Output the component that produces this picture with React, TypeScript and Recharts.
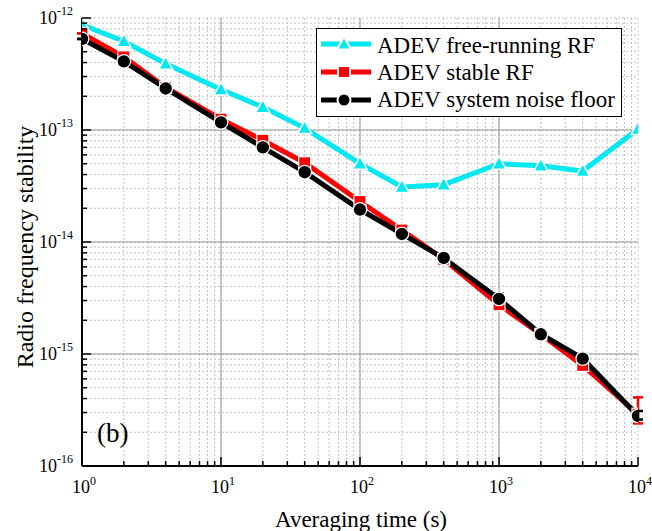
import React from "react";
import {
  LineChart,
  Line,
  XAxis,
  YAxis,
  CartesianGrid,
  ReferenceLine,
  ErrorBar,
  Legend,
  Label,
} from "recharts";

// ---- data ----
const tau = [1, 2, 4, 10, 20, 40, 100, 200, 400, 1000, 2000, 4000, 10000];
const freeRunningRF = [
  8.7e-13, 6.2e-13, 3.9e-13, 2.3e-13, 1.6e-13, 1.04e-13, 5.0e-14, 3.1e-14,
  3.25e-14, 5.0e-14, 4.8e-14, 4.3e-14, 1.02e-13,
];
const stableRF = [
  7.3e-13, 4.5e-13, 2.4e-13, 1.25e-13, 8.1e-14, 5.1e-14, 2.3e-14, 1.28e-14,
  7.0e-15, 2.75e-15, 1.5e-15, 7.9e-16, 2.9e-16,
];
const noiseFloor = [
  6.5e-13, 4.1e-13, 2.35e-13, 1.17e-13, 7.0e-14, 4.2e-14, 1.95e-14, 1.18e-14,
  7.2e-15, 3.1e-15, 1.5e-15, 9.1e-16, 2.8e-16,
];
const stableRFErr = [
  [0, 0], [0, 0], [0, 0], [0, 0], [0, 0], [0, 0], [0, 0], [0, 0], [0, 0],
  [1.0e-16, 1.0e-16], [0.5e-16, 0.5e-16], [0.6e-16, 0.7e-16], [0.5e-16, 1.2e-16],
];
const noiseFloorErr = [
  [0, 0], [0, 0], [0, 0], [0, 0], [0, 0], [0, 0], [0, 0], [0, 0], [0, 0],
  [2.5e-16, 3.5e-16], [0.5e-16, 0.5e-16], [0.6e-16, 0.9e-16], [0.2e-16, 0.3e-16],
];

const seriesNames = [
  "ADEV free-running RF",
  "ADEV stable RF",
  "ADEV system noise floor",
];
const xTitle = "Averaging time (s)";
const yTitle = "Radio frequency stability";
const panelLabel = "(b)";

const xDecades = [1, 10, 100, 1000, 10000];
const yDecades = [1e-16, 1e-15, 1e-14, 1e-13, 1e-12];
const minorMultipliers = [2, 3, 4, 5, 6, 7, 8, 9];

const withMinors = (decs: number[]) => {
  const out: number[] = [];
  decs.forEach((d, i) => {
    out.push(d);
    if (i < decs.length - 1) minorMultipliers.forEach((m) => out.push(m * d));
  });
  return out;
};
const xTicks = withMinors(xDecades);
const yTicks = withMinors(yDecades);
const isMajor = (v: number, decs: number[]) =>
  decs.some((d) => Math.abs(v - d) / d < 1e-6);

const data = tau.map((t, i) => ({
  tau: t,
  free: freeRunningRF[i],
  stable: stableRF[i],
  floor: noiseFloor[i],
  stableErr: stableRFErr[i],
  floorErr: noiseFloorErr[i],
}));

const FONT = "Liberation Serif, DejaVu Serif, serif";
const CYAN = "#00E8F0";
const RED = "#FF0000";
const BLACK = "#000000";
const tStyle = { fontFamily: FONT };

// ---- ticks ----
const BottomTick = (props: any) => {
  const { x, y, payload } = props;
  const v = payload.value;
  const major = isMajor(v, xDecades);
  const e = Math.round(Math.log10(v));
  return (
    <g>
      <line x1={x} x2={x} y1={y} y2={y - (major ? 9 : 5)} stroke="#000" strokeWidth={1.5} />
      {major && (
        <text x={x + 2} y={y + 27} textAnchor="middle" style={tStyle} fontSize={18} fill="#000">
          10
          <tspan dy={-8} fontSize={12}>{e}</tspan>
        </text>
      )}
    </g>
  );
};
const TopTick = (props: any) => {
  const { x, y, payload } = props;
  const major = isMajor(payload.value, xDecades);
  return <line x1={x} x2={x} y1={y} y2={y + (major ? 9 : 5)} stroke="#000" strokeWidth={1.5} />;
};
const LeftTick = (props: any) => {
  const { x, y, payload } = props;
  const v = payload.value;
  const major = isMajor(v, yDecades);
  const e = Math.round(Math.log10(v));
  return (
    <g>
      <line x1={x} x2={x + (major ? 9 : 5)} y1={y} y2={y} stroke="#000" strokeWidth={1.5} />
      {major && (
        <text x={x - 9} y={y + 6} textAnchor="end" style={tStyle} fontSize={18} fill="#000">
          10
          <tspan dy={-9} fontSize={12}>{e}</tspan>
        </text>
      )}
    </g>
  );
};
const RightTick = (props: any) => {
  const { x, y, payload } = props;
  const major = isMajor(payload.value, yDecades);
  return <line x1={x} x2={x - (major ? 9 : 5)} y1={y} y2={y} stroke="#000" strokeWidth={1.5} />;
};

// ---- markers ----
const triPath = (cx: number, cy: number) =>
  `M${cx},${cy - 7.5} L${cx + 7},${cy + 5.5} L${cx - 7},${cy + 5.5} Z`;
const TriangleDot = (props: any) => {
  const { cx, cy, index } = props;
  if (cx == null || cy == null) return <g key={`t${index}`} />;
  return <path key={`t${index}`} d={triPath(cx, cy)} fill={CYAN} stroke="#fff" strokeWidth={1.5} />;
};
const SquareDot = (props: any) => {
  const { cx, cy, index } = props;
  if (cx == null || cy == null) return <g key={`s${index}`} />;
  return <rect key={`s${index}`} x={cx - 6} y={cy - 6} width={12} height={12} fill={RED} stroke="#fff" strokeWidth={1.2} />;
};
const CircleDot = (props: any) => {
  const { cx, cy, index } = props;
  if (cx == null || cy == null) return <g key={`c${index}`} />;
  return <circle key={`c${index}`} cx={cx} cy={cy} r={6.8} fill={BLACK} stroke="#fff" strokeWidth={1.2} />;
};

// ---- legend ----
const LegendBox = () => {
  const rows = [
    { color: CYAN, name: seriesNames[0], cy: 15, ty: 24, kind: "tri" },
    { color: RED, name: seriesNames[1], cy: 43, ty: 51, kind: "sq" },
    { color: BLACK, name: seriesNames[2], cy: 71, ty: 78, kind: "ci" },
  ];
  return (
    <div style={{ width: 306, height: 89, background: "#fff", boxSizing: "border-box", border: "1px solid #000" }}>
      <svg width={304} height={87} style={{ display: "block" }}>
        {rows.map((r) => (
          <g key={r.name}>
            <line x1={4} x2={54} y1={r.cy} y2={r.cy} stroke={r.color} strokeWidth={5} />
            {r.kind === "tri" && <path d={triPath(27, r.cy)} fill={r.color} stroke="#fff" strokeWidth={2} />}
            {r.kind === "sq" && <rect x={21} y={r.cy - 6} width={12} height={12} fill={r.color} stroke="#fff" strokeWidth={2} />}
            {r.kind === "ci" && <circle cx={27} cy={r.cy} r={6.5} fill={r.color} stroke="#fff" strokeWidth={2} />}
            <text x={60} y={r.ty} style={tStyle} fontSize={23} fill="#000">{r.name}</text>
          </g>
        ))}
      </svg>
    </div>
  );
};

export default function App() {
  return (
    <div style={{ position: "absolute", left: 0, top: 0, width: 652, height: 531, background: "#fff" }}>
      <LineChart width={652} height={531} data={data} margin={{ top: 18, right: 14, bottom: 0, left: 0 }}>
        <CartesianGrid stroke="#c4c4c4" strokeDasharray="2 2" strokeWidth={1} />
        {xDecades.slice(1, -1).map((d) => (
          <ReferenceLine key={`xr${d}`} x={d} stroke="#9a9a9a" strokeWidth={1} />
        ))}
        {yDecades.slice(1, -1).map((d) => (
          <ReferenceLine key={`yr${d}`} y={d} stroke="#9a9a9a" strokeWidth={1} />
        ))}
        <XAxis
          dataKey="tau"
          type="number"
          scale="log"
          domain={[1, 10000]}
          ticks={xTicks}
          interval={0}
          allowDataOverflow
          height={65}
          tickSize={0}
          tickMargin={0}
          tickLine={false}
          tick={BottomTick}
          axisLine={{ stroke: "#000", strokeWidth: 2 }}
        >
          <Label
            content={() => (
              <text x={361} y={527} textAnchor="middle" style={tStyle} fontSize={23} fill="#000">
                {xTitle}
              </text>
            )}
          />
        </XAxis>
        <XAxis
          xAxisId="top"
          orientation="top"
          dataKey="tau"
          type="number"
          scale="log"
          domain={[1, 10000]}
          ticks={xTicks}
          interval={0}
          allowDataOverflow
          height={0}
          tickSize={0}
          tickMargin={0}
          tickLine={false}
          tick={TopTick}
          axisLine={{ stroke: "#000", strokeWidth: 2 }}
        />
        <YAxis
          type="number"
          scale="log"
          domain={[1e-16, 1e-12]}
          ticks={yTicks}
          interval={0}
          allowDataOverflow
          width={82}
          tickSize={0}
          tickMargin={0}
          tickLine={false}
          tick={LeftTick}
          axisLine={{ stroke: "#000", strokeWidth: 2 }}
        >
          <Label
            content={() => (
              <g>
                <text
                  x={33}
                  y={247}
                  transform="rotate(-90 33 247)"
                  textAnchor="middle"
                  style={tStyle}
                  fontSize={24}
                  fill="#000"
                >
                  {yTitle}
                </text>
                <text x={97} y={442} style={tStyle} fontSize={27} fill="#000">
                  {panelLabel}
                </text>
              </g>
            )}
          />
        </YAxis>
        <YAxis
          yAxisId="right"
          orientation="right"
          type="number"
          scale="log"
          domain={[1e-16, 1e-12]}
          ticks={yTicks}
          interval={0}
          allowDataOverflow
          width={0}
          tickSize={0}
          tickMargin={0}
          tickLine={false}
          tick={RightTick}
          axisLine={{ stroke: "#000", strokeWidth: 2 }}
        />
        <Legend
          layout="vertical"
          verticalAlign="middle"
          align="center"
          wrapperStyle={{ position: "absolute", left: 316, top: 28, width: 306, height: 89 }}
          content={() => <LegendBox />}
        />
        <Line
          dataKey="free"
          name={seriesNames[0]}
          stroke={CYAN}
          strokeWidth={5}
          isAnimationActive={false}
          dot={TriangleDot}
          activeDot={false}
        />
        <Line
          dataKey="stable"
          name={seriesNames[1]}
          stroke={RED}
          strokeWidth={5}
          isAnimationActive={false}
          dot={SquareDot}
          activeDot={false}
        >
          <ErrorBar dataKey="stableErr" width={5} stroke={RED} strokeWidth={2.5} direction="y" isAnimationActive={false} />
        </Line>
        <Line
          dataKey="floor"
          name={seriesNames[2]}
          stroke={BLACK}
          strokeWidth={5}
          isAnimationActive={false}
          dot={CircleDot}
          activeDot={false}
        >
          <ErrorBar dataKey="floorErr" width={5} stroke={BLACK} strokeWidth={2.5} direction="y" isAnimationActive={false} />
        </Line>
      </LineChart>
    </div>
  );
}
